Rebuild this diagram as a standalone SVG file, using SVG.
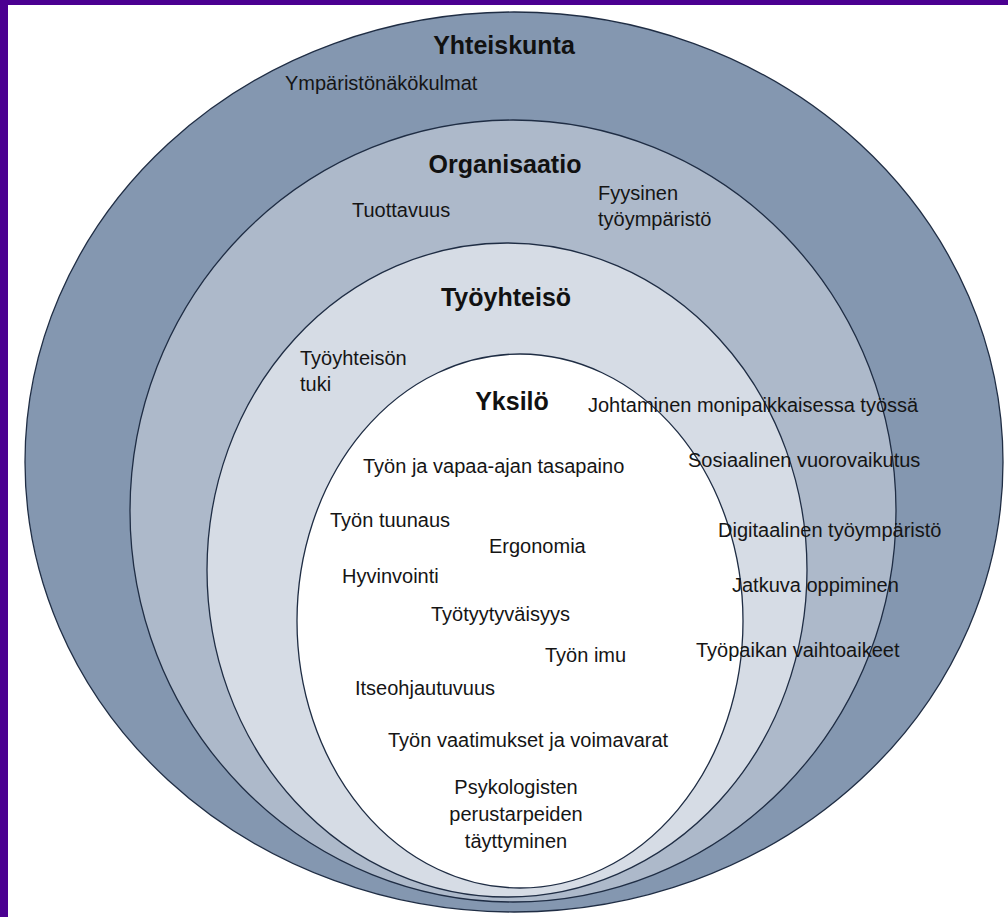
<svg xmlns="http://www.w3.org/2000/svg" width="1008" height="917" viewBox="0 0 1008 917">
<style>
.ring{stroke:#1f2d44;stroke-width:1.3}
.t{font-family:"Liberation Sans",Arial,sans-serif;font-size:20px;fill:#151515}
.h{font-family:"Liberation Sans",Arial,sans-serif;font-size:25px;font-weight:bold;fill:#111;text-anchor:middle}
.c{text-anchor:middle}
</style>
<rect x="0" y="0" width="1008" height="917" fill="#ffffff"/>
<g id="frame">
<rect x="0" y="0" width="1008" height="5" fill="#4b0091"/>
<rect x="0" y="0" width="8" height="917" fill="#4b0091"/>
</g>
<g id="yhteiskunta">
<ellipse class="ring" cx="514" cy="462" rx="489" ry="450" fill="#8497b0"/>
<text class="h" x="504" y="54">Yhteiskunta</text>
<text class="t" x="285" y="90">Ympäristönäkökulmat</text>
</g>
<g id="organisaatio">
<ellipse class="ring" cx="513" cy="511" rx="383" ry="391" fill="#adb9ca"/>
<text class="h" x="505" y="173">Organisaatio</text>
<text class="t" x="352" y="217">Tuottavuus</text>
<text class="t" x="598" y="200">Fyysinen</text>
<text class="t" x="598" y="226">työympäristö</text>
</g>
<g id="tyoyhteiso">
<ellipse class="ring" cx="507" cy="570" rx="300" ry="327" fill="#d6dce5"/>
<text class="h" x="506" y="306">Työyhteisö</text>
<text class="t" x="300" y="365">Työyhteisön</text>
<text class="t" x="300" y="391">tuki</text>
</g>
<g id="yksilo">
<ellipse class="ring" cx="520" cy="621" rx="223" ry="267" fill="#ffffff"/>
<text class="h" x="512" y="410">Yksilö</text>
<text class="t" x="363" y="473">Työn ja vapaa-ajan tasapaino</text>
<text class="t" x="330" y="527">Työn tuunaus</text>
<text class="t" x="489" y="553">Ergonomia</text>
<text class="t" x="342" y="583">Hyvinvointi</text>
<text class="t" x="431" y="621">Työtyytyväisyys</text>
<text class="t" x="545" y="662">Työn imu</text>
<text class="t" x="355" y="695">Itseohjautuvuus</text>
<text class="t" x="388" y="747">Työn vaatimukset ja voimavarat</text>
<text class="t c" x="516" y="794">Psykologisten</text>
<text class="t c" x="516" y="821">perustarpeiden</text>
<text class="t c" x="516" y="848">täyttyminen</text>
</g>
<g id="cross-level">
<text class="t" x="588" y="412">Johtaminen monipaikkaisessa työssä</text>
<text class="t" x="688" y="467">Sosiaalinen vuorovaikutus</text>
<text class="t" x="718" y="537">Digitaalinen työympäristö</text>
<text class="t" x="732" y="592">Jatkuva oppiminen</text>
<text class="t" x="696" y="657">Työpaikan vaihtoaikeet</text>
</g>
<g id="connectors"/>
</svg>
